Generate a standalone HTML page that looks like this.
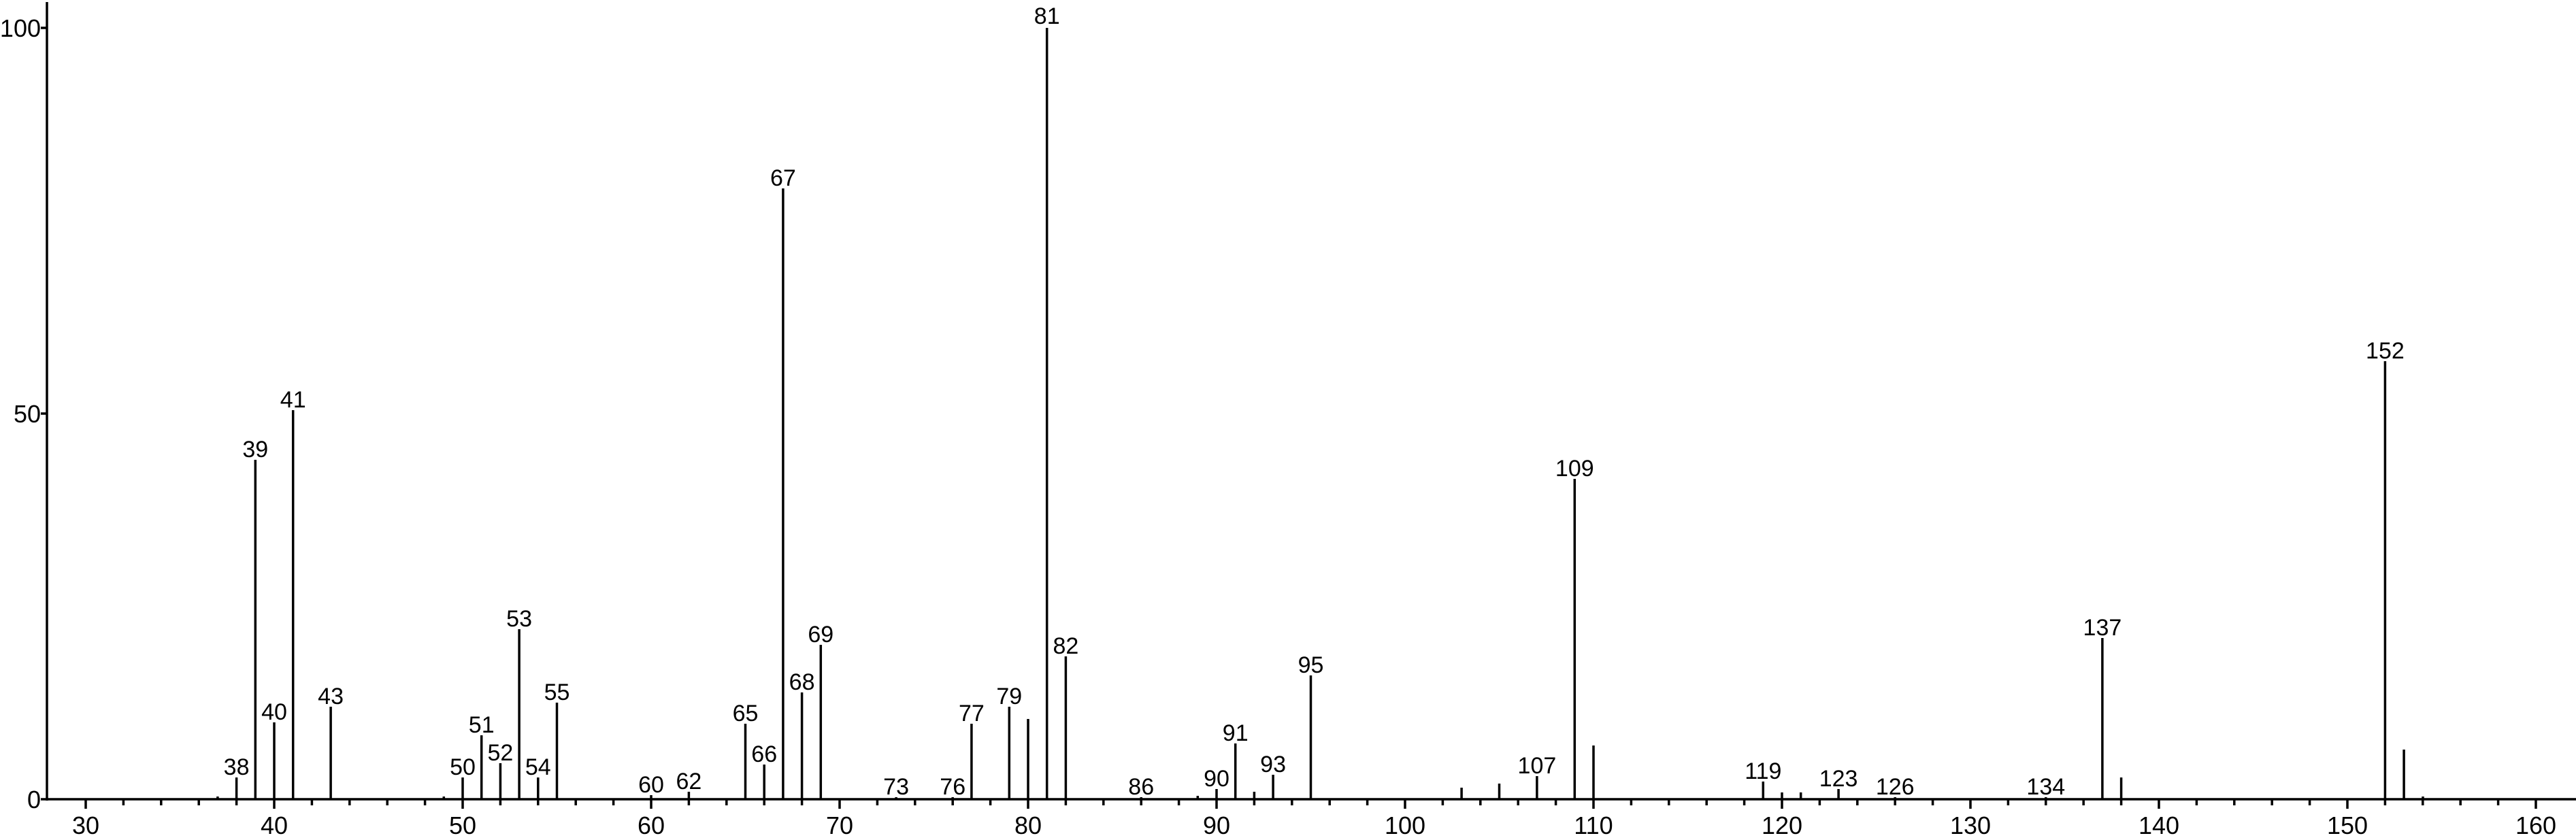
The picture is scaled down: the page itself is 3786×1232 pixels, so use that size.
<!DOCTYPE html>
<html><head><meta charset="utf-8"><style>
html,body{margin:0;padding:0;background:#fff;}
svg{display:block;}
text{font-family:"Liberation Sans",Arial,sans-serif;fill:#000;}
</style></head><body>
<svg width="3786" height="1232" viewBox="0 0 3786 1232" xmlns="http://www.w3.org/2000/svg">
<g stroke="#000" stroke-width="3.5" fill="none">
<line x1="69" y1="3" x2="69" y2="1177"/>
<line x1="69" y1="1175" x2="3786" y2="1175"/>
<line x1="60" y1="41" x2="69" y2="41"/>
<line x1="60" y1="608" x2="69" y2="608"/>
<line x1="60" y1="1175" x2="69" y2="1175"/>
<!-- major ticks -->
<path d="M126 1175v14M403 1175v14M680 1175v14M957 1175v14M1234 1175v14M1511 1175v14M1788 1175v14M2065 1175v14M2342 1175v14M2619 1175v14M2896 1175v14M3173 1175v14M3450 1175v14M3727 1175v14"/>
<!-- minor ticks -->
<path d="M181.4 1175v9M236.8 1175v9M292.2 1175v9M347.6 1175v9M458.4 1175v9M513.8 1175v9M569.2 1175v9M624.6 1175v9M735.4 1175v9M790.8 1175v9M846.2 1175v9M901.6 1175v9M1012.4 1175v9M1067.8 1175v9M1123.2 1175v9M1178.6 1175v9M1289.4 1175v9M1344.8 1175v9M1400.2 1175v9M1455.6 1175v9M1566.4 1175v9M1621.8 1175v9M1677.2 1175v9M1732.6 1175v9M1843.4 1175v9M1898.8 1175v9M1954.2 1175v9M2009.6 1175v9M2120.4 1175v9M2175.8 1175v9M2231.2 1175v9M2286.6 1175v9M2397.4 1175v9M2452.8 1175v9M2508.2 1175v9M2563.6 1175v9M2674.4 1175v9M2729.8 1175v9M2785.2 1175v9M2840.6 1175v9M2951.4 1175v9M3006.8 1175v9M3062.2 1175v9M3117.6 1175v9M3228.4 1175v9M3283.8 1175v9M3339.2 1175v9M3394.6 1175v9M3505.4 1175v9M3560.8 1175v9M3616.2 1175v9M3671.6 1175v9"/>
<!-- peaks -->
<path d="M319.9 1175v-4M347.6 1175V1143M375.3 1175V676M403 1175V1062M430.7 1175V603M486.1 1175V1039M652.3 1175v-4M680 1175V1143M707.7 1175V1081M735.4 1175V1122M763.1 1175V925M790.8 1175V1143M818.5 1175V1033M957 1175V1169M1012.4 1175V1164M1095.5 1175V1064M1123.2 1175V1124M1150.9 1175V277M1178.6 1175V1018M1206.3 1175V948M1317.1 1175V1172M1400.2 1175V1172M1427.9 1175V1064M1483.3 1175V1039M1511 1175V1057M1538.7 1175V41M1566.4 1175V965M1677.2 1175V1172M1760.3 1175V1170M1788 1175V1160M1815.7 1175V1093M1843.4 1175V1164M1871.1 1175V1139M1926.5 1175V993M2148.1 1175V1158M2203.5 1175V1152M2258.9 1175V1141M2314.3 1175V704M2342 1175V1096M2591.3 1175V1149M2619 1175V1165M2646.7 1175V1165M2702.1 1175V1160M2785.2 1175V1172M3006.8 1175V1172M3089.9 1175V938M3117.6 1175V1143M3505.4 1175V531M3533.1 1175V1102M3561 1175v-4"/>
</g>
<g font-size="36" text-anchor="end">
<text x="60" y="54">100</text>
<text x="60" y="621">50</text>
<text x="60" y="1188">0</text>
</g>
<g font-size="36" text-anchor="middle">
<text x="126" y="1226">30</text><text x="403" y="1226">40</text><text x="680" y="1226">50</text><text x="957" y="1226">60</text><text x="1234" y="1226">70</text><text x="1511" y="1226">80</text><text x="1788" y="1226">90</text><text x="2065" y="1226">100</text><text x="2342" y="1226">110</text><text x="2619" y="1226">120</text><text x="2896" y="1226">130</text><text x="3173" y="1226">140</text><text x="3450" y="1226">150</text><text x="3727" y="1226">160</text>
</g>
<g font-size="34" text-anchor="middle">
<text x="347.6" y="1139">38</text>
<text x="375.3" y="672">39</text>
<text x="403" y="1058">40</text>
<text x="430.7" y="599">41</text>
<text x="486.1" y="1035">43</text>
<text x="680" y="1139">50</text>
<text x="707.7" y="1077">51</text>
<text x="735.4" y="1118">52</text>
<text x="763.1" y="921">53</text>
<text x="790.8" y="1139">54</text>
<text x="818.5" y="1029">55</text>
<text x="957" y="1165">60</text>
<text x="1012.4" y="1160">62</text>
<text x="1095.5" y="1060">65</text>
<text x="1123.2" y="1120">66</text>
<text x="1150.9" y="273">67</text>
<text x="1178.6" y="1014">68</text>
<text x="1206.3" y="944">69</text>
<text x="1317.1" y="1168">73</text>
<text x="1400.2" y="1168">76</text>
<text x="1427.9" y="1060">77</text>
<text x="1483.3" y="1035">79</text>
<text x="1538.7" y="35">81</text>
<text x="1566.4" y="961">82</text>
<text x="1677.2" y="1168">86</text>
<text x="1788" y="1156">90</text>
<text x="1815.7" y="1089">91</text>
<text x="1871.1" y="1135">93</text>
<text x="1926.5" y="989">95</text>
<text x="2258.9" y="1137">107</text>
<text x="2314.3" y="700">109</text>
<text x="2591.3" y="1145">119</text>
<text x="2702.1" y="1156">123</text>
<text x="2785.2" y="1168">126</text>
<text x="3006.8" y="1168">134</text>
<text x="3089.9" y="934">137</text>
<text x="3505.4" y="527">152</text>
</g>
</svg>
</body></html>
